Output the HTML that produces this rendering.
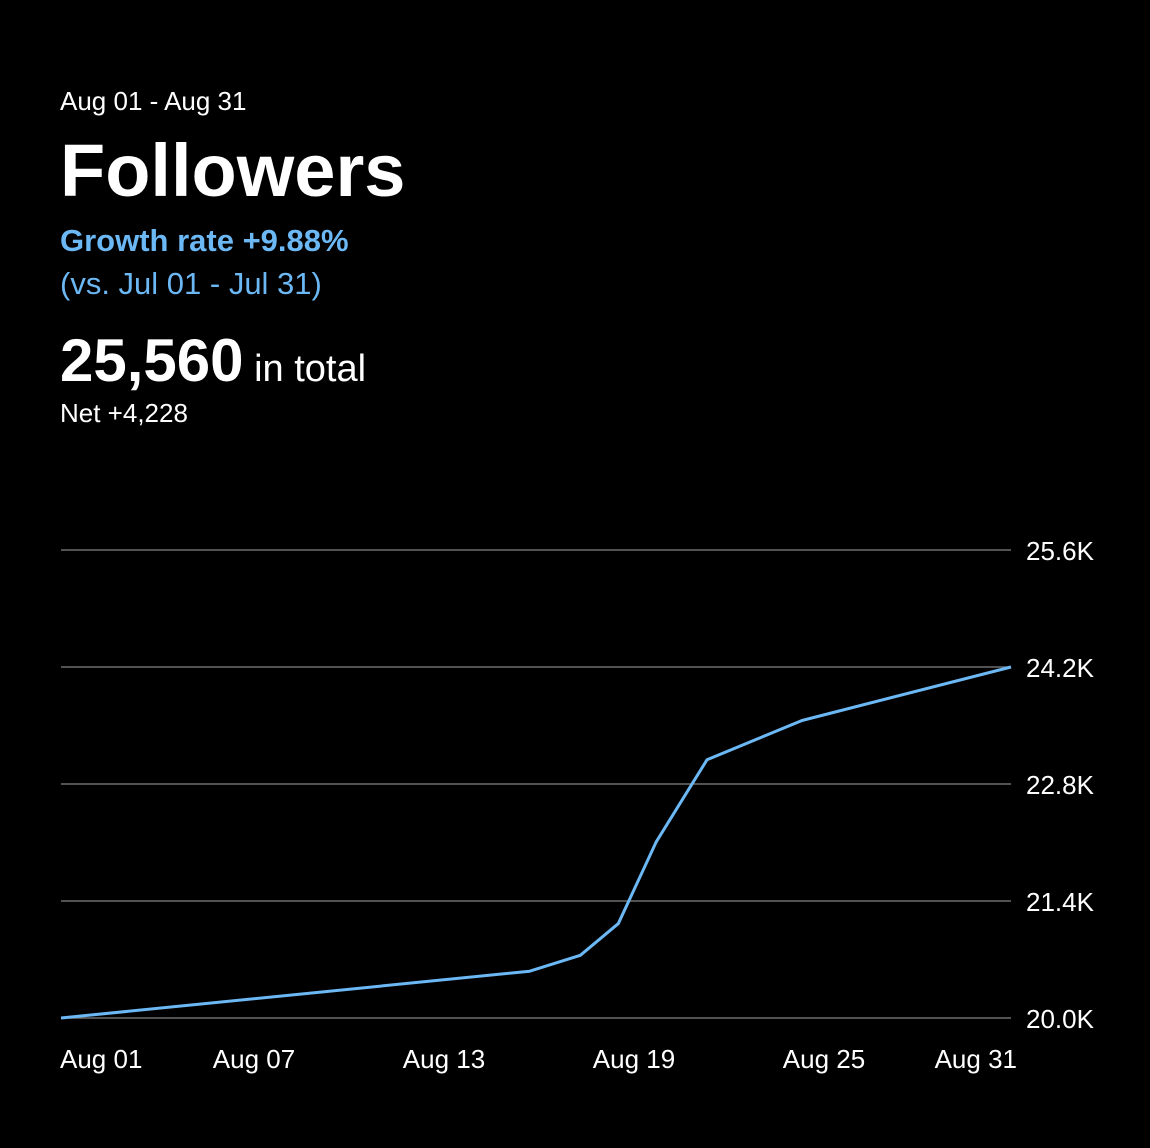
<!DOCTYPE html>
<html><head><meta charset="utf-8"><style>
html,body{margin:0;padding:0;background:#000;}
body{width:1150px;height:1148px;position:relative;overflow:hidden;font-family:"Liberation Sans",sans-serif;color:#fff;}
.t{position:absolute;left:60px;white-space:nowrap;}
</style></head><body>
<div class="t" style="top:86px;font-size:26px;">Aug 01 - Aug 31</div>
<div class="t" style="top:128px;font-size:74px;font-weight:bold;">Followers</div>
<div class="t" style="top:223px;font-size:31px;font-weight:bold;color:#6cb8f5;">Growth rate +9.88%</div>
<div class="t" style="top:266px;font-size:31px;color:#6cb8f5;">(vs. Jul 01 - Jul 31)</div>
<div class="t" style="top:326px;"><span style="font-size:60px;font-weight:bold;">25,560</span><span style="font-size:38px;"> in total</span></div>
<div class="t" style="top:398px;font-size:26px;">Net +4,228</div>
<svg id="chart" width="1150" height="1148" style="position:absolute;left:0;top:0;"></svg>
<script>
const days=[0,14.8,16.4,17.6,18.8,20.4,23.4,30];
const followers=[20.0,20.56,20.75,21.13,22.11,23.09,23.56,24.2];
const yTicks=[20.0,21.4,22.8,24.2,25.6];
const xTickDays=[0,6,12,18,24,30];
const xTickLabels=["Aug 01","Aug 07","Aug 13","Aug 19","Aug 25","Aug 31"];
const ns="http://www.w3.org/2000/svg";
const svg=document.getElementById('chart');
const x0=61,x1=1011,y0=1018,y1=550;
const X=d=>x0+(d/30)*(x1-x0);
const Y=v=>y0-(v-20)/(5.6)*(y0-y1);
function mk(t,a){const e=document.createElementNS(ns,t);for(const k in a)e.setAttribute(k,a[k]);svg.appendChild(e);return e;}
yTicks.forEach(v=>{
 const l=mk('line',{x1:x0,x2:x1,y1:Y(v),y2:Y(v),stroke:'#6e6e6e','stroke-width':1.5});
 
 
 const t=mk('text',{x:1026,y:Y(v)+10,fill:'#fff','font-size':26,'font-family':'Liberation Sans, sans-serif'});
 t.textContent=v.toFixed(1)+'K';
 
 
});
xTickDays.forEach((d,i)=>{
 const anchor=i===0?'start':(i===xTickDays.length-1?'end':'middle');
 const xx=i===0?X(d)-1:(i===xTickDays.length-1?X(d)+6:X(d)+3);
 const t=mk('text',{x:xx,y:1068,fill:'#fff','font-size':26,'text-anchor':anchor,'font-family':'Liberation Sans, sans-serif'});
 t.textContent=xTickLabels[i];
 
 
});
const pts=days.map((d,i)=>X(d)+','+Y(followers[i])).join(' ');
const p=mk('polyline',{points:pts,fill:'none',stroke:'#6cb8f5','stroke-width':3,'stroke-linejoin':'round'});


</script>
</body></html>
